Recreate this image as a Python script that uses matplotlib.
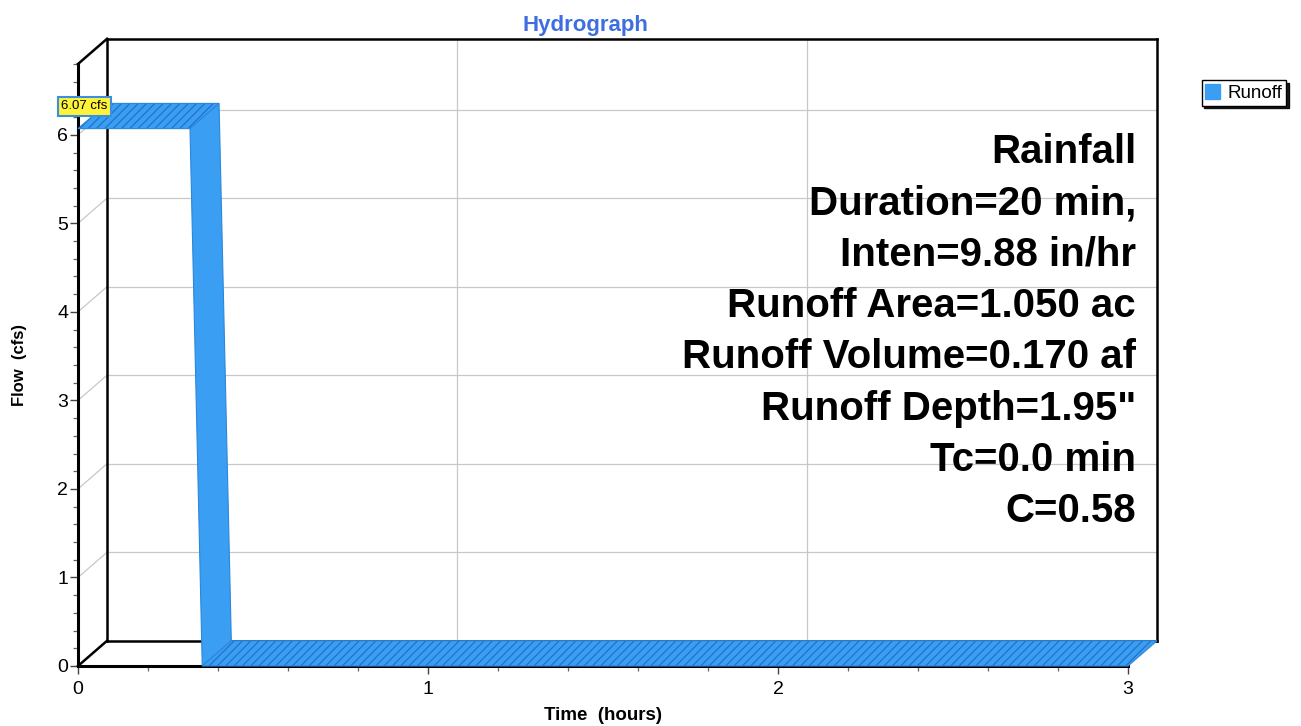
"""
HydroCAD-style runoff hydrograph with a pseudo-3D depth box.
"""

import matplotlib.pyplot as plt
from matplotlib.patches import Polygon
from matplotlib.ticker import MultipleLocator

# hydrograph data (hours, cfs)
time_hr = [0.0, 0.32, 0.355, 3.0]
flow_cfs = [6.07, 6.07, 0.0, 0.0]
peak_label = '6.07 cfs'

x_max = 3.0
y_max = 6.8
x_ticks = [0, 1, 2, 3]
y_ticks = [0, 1, 2, 3, 4, 5, 6]

info_lines = ['Rainfall', 'Duration=20 min,', 'Inten=9.88 in/hr',
              'Runoff Area=1.050 ac', 'Runoff Volume=0.170 af',
              'Runoff Depth=1.95"', 'Tc=0.0 min', 'C=0.58']

# depth offset of the back wall, in data units
dx = 0.083
dy = 0.285

blue = '#3a9ff2'
hatch_col = '#1f6dc4'
grid_col = '#c8c8c8'

plt.rcParams['font.family'] = ['Liberation Sans', 'DejaVu Sans']
plt.rcParams['hatch.linewidth'] = 0.8

W, H = 1301, 726
fig = plt.figure(figsize=(13.01, 7.26), dpi=100)
x0, x1 = 78, 1128
y0, y1 = 666, 64
ax = fig.add_axes([x0 / W, (H - y0) / H, (x1 - x0) / W, (y0 - y1) / H])
ax.set_xlim(0, x_max)
ax.set_ylim(0, y_max)
ax.patch.set_visible(False)
for s in ['top', 'right']:
    ax.spines[s].set_visible(False)
ax.spines['left'].set_linewidth(2.2)
ax.spines['bottom'].set_linewidth(2.2)

# back wall grid
for q in y_ticks[1:]:
    ax.plot([dx, x_max + dx], [q + dy, q + dy], color=grid_col, lw=0.9,
            clip_on=False, zorder=1)
    ax.plot([0, dx], [q, q + dy], color=grid_col, lw=0.9, clip_on=False,
            zorder=1)
for t in x_ticks[1:-1]:
    ax.plot([t + dx, t + dx], [dy, y_max + dy], color=grid_col, lw=0.9,
            clip_on=False, zorder=1)

# box edges
k = dict(color='black', lw=1.8, clip_on=False, zorder=2)
ax.plot([dx, dx], [dy, y_max + dy], **k)
ax.plot([dx, x_max + dx], [y_max + dy, y_max + dy], **k)
ax.plot([x_max + dx, x_max + dx], [dy, y_max + dy], **k)
ax.plot([dx, x_max + dx], [dy, dy], **k)
ax.plot([0, dx], [y_max, y_max + dy], **k)
ax.plot([0, dx], [0, dy], **k)

# ribbon
for i in range(len(time_hr) - 1):
    ta, tb = time_hr[i], time_hr[i + 1]
    qa, qb = flow_cfs[i], flow_cfs[i + 1]
    pts = [(ta, qa), (tb, qb), (tb + dx, qb + dy), (ta + dx, qa + dy)]
    flat = qa == qb
    poly = Polygon(pts, closed=True, facecolor=blue,
                   edgecolor=hatch_col if flat else blue,
                   hatch='////' if flat else None, lw=0.0,
                   clip_on=False, zorder=3)
    ax.add_patch(poly)
    ax.add_patch(Polygon(pts, closed=True, fill=False, edgecolor='#2b86dc',
                         lw=0.8, clip_on=False, zorder=3))

# ticks
ax.set_xticks(x_ticks)
ax.set_yticks(y_ticks)
ax.xaxis.set_minor_locator(MultipleLocator(0.2))
ax.yaxis.set_minor_locator(MultipleLocator(0.2))
ax.tick_params(which='major', length=6, width=1.0, labelsize=14,
               colors='#444444', labelcolor='black')
ax.tick_params(which='minor', length=3.5, width=0.9, colors='#666666')
ax.tick_params(axis='x', pad=5)
ax.tick_params(axis='y', pad=1)

ax.set_xlabel('Time  (hours)', fontsize=13.5, fontweight='bold', labelpad=6)
ax.set_ylabel('Flow  (cfs)', fontsize=12, fontweight='bold', labelpad=22)

# peak label
ax.text(0.018, 6.32, peak_label, ha='center', va='center', fontsize=9.5,
        zorder=5, bbox=dict(boxstyle='square,pad=0.25', facecolor='#fff23a',
                            edgecolor='#3a8fe0', lw=1.5))

fig.text(585 / W, 1 - 25 / H, 'Hydrograph', ha='center', va='center',
         fontsize=16, fontweight='bold', color='#3d6fe0')

# rainfall info block
for j, line in enumerate(info_lines):
    fig.text(1136 / W, 1 - (152 + j * 51.3) / H, line, ha='right',
             va='center', fontsize=29, fontweight='bold')

# legend
leg = fig.legend(handles=[Polygon([(0, 0)], facecolor=blue, edgecolor=blue)],
                 labels=['Runoff'], loc='center', fontsize=13.5,
                 bbox_to_anchor=(1244 / W, 1 - 93 / H), frameon=True,
                 fancybox=False, shadow={'color': 'black', 'alpha': 0.9},
                 handlelength=0.8, handleheight=0.8, handletextpad=0.4,
                 borderpad=0.2, borderaxespad=0)
leg.get_frame().set_edgecolor('black')
leg.get_frame().set_linewidth(1.0)

fig.savefig('out.png', dpi=100)
